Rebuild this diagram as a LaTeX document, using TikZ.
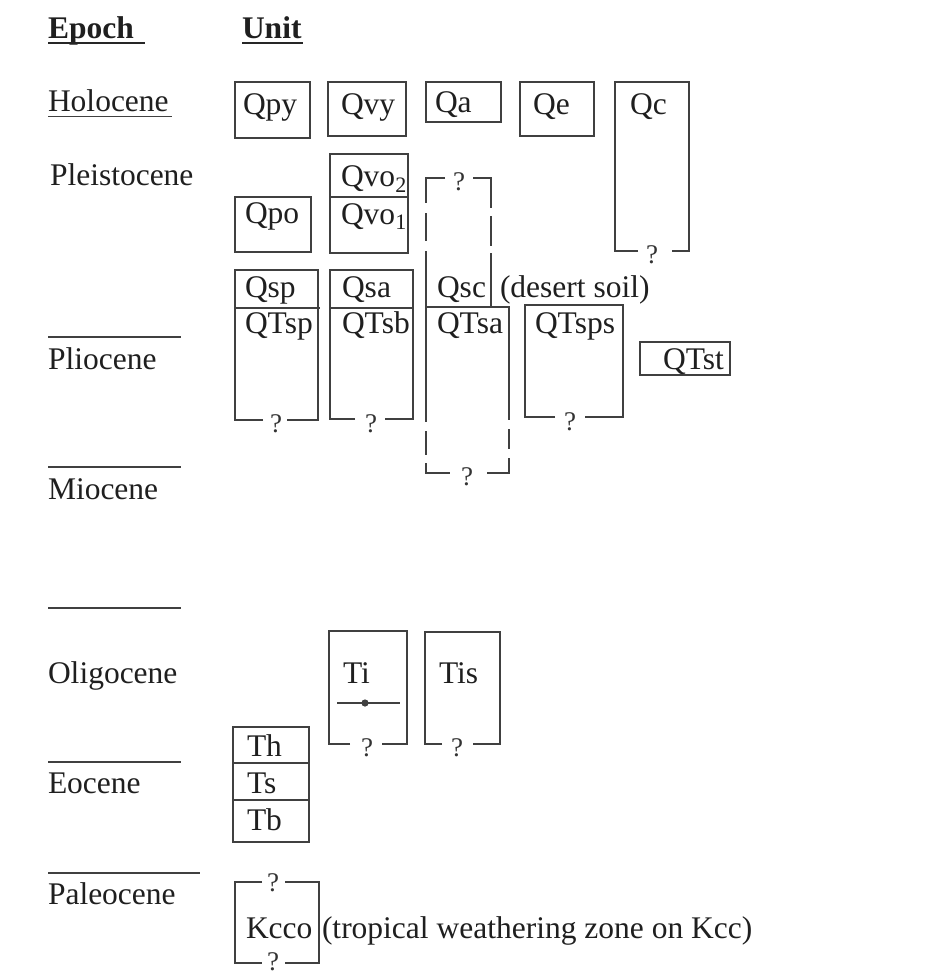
\documentclass[tikz,border=0pt]{standalone}
\usepackage{fontspec}
\setmainfont{Liberation Serif}
\begin{document}
\begin{tikzpicture}[x=1pt,y=-1pt,
  txt/.style={anchor=base west, inner sep=0pt, outer sep=0pt, text=black!88, font=\fontsize{31.5}{36}\selectfont},
  hdr/.style={txt, font=\bfseries\fontsize{31.5}{36}\selectfont},
  qm/.style={inner sep=0pt, outer sep=0pt, text=black!80, font=\fontsize{27}{30}\selectfont},
  box/.style={draw=black!75, line width=2pt, line join=miter},
  rulel/.style={draw=black!75, line width=1.6pt},
  uline/.style={draw=black!85, line width=2.2pt}]
\useasboundingbox (0,0) rectangle (943,977);
% ---------- header ----------
\node[hdr] (epoch) at (48,38) {Epoch};
\draw[uline] (48,43) -- (145,43);
\node[hdr] (unit) at (242,38) {Unit};
\draw[uline] (242,43) -- (303,43);
% ---------- epochs ----------
\node[txt] (holo) at (48,111) {Holocene};
\draw[rulel] (48,116.5) -- (172,116.5);
\node[txt] (pleis) at (50,185) {Pleistocene};
\draw[rulel] (48,337) -- (181,337);
\node[txt] (plio) at (48,369) {Pliocene};
\draw[rulel] (48,467) -- (181,467);
\node[txt] (mio) at (48,499) {Miocene};
\draw[rulel] (48,608) -- (181,608);
\node[txt] (oligo) at (48,683) {Oligocene};
\draw[rulel] (48,762) -- (181,762);
\node[txt] (eo) at (48,793) {Eocene};
\draw[rulel] (48,873) -- (200,873);
\node[txt] (paleo) at (48,904) {Paleocene};
% ---------- Holocene units ----------
\draw[box] (235,82) rectangle (310,138);
\node[txt] (qpy) at (243,114) {Qpy};
\draw[box] (328,82) rectangle (406,136);
\node[txt] (qvy) at (341,114) {Qvy};
\draw[box] (426,82) rectangle (501,122);
\node[txt] (qa) at (435,112) {Qa};
\draw[box] (520,82) rectangle (594,136);
\node[txt] (qe) at (533,114) {Qe};
\draw[box] (638,251) -- (615,251) -- (615,82) -- (689,82) -- (689,251) -- (672,251);
\node[txt] (qc) at (630,114) {Qc};
\node[qm] (qcq) at (652,255) {?};
% ---------- Pleistocene units ----------
\draw[box] (330,154) rectangle (408,253);
\draw[box] (330,197) -- (408,197);
\node[txt] (qvo2) at (341,186) {Qvo\textsubscript{2}};
\node[txt] (qvo1) at (341,224) {Qvo\textsubscript{1}};
\draw[box] (235,197) rectangle (311,252);
\node[txt] (qpo) at (245,223) {Qpo};
% Qsc / QTsa column
\draw[box] (445,178) -- (426,178) -- (426,203);
\draw[box] (426,213) -- (426,241);
\draw[box] (426,251) -- (426,422);
\draw[box] (426,431) -- (426,455);
\draw[box] (426,463) -- (426,473) -- (450,473);
\draw[box] (473,178) -- (491,178) -- (491,208);
\draw[box] (491,216) -- (491,246);
\draw[box] (491,253) -- (491,307);
\draw[box] (426,307) -- (509,307) -- (509,420);
\draw[box] (509,429) -- (509,449);
\draw[box] (509,458) -- (509,473) -- (487,473);
\node[qm] (qscq) at (459,182) {?};
\node[qm] (qtsaq) at (467,477) {?};
\node[txt] (qsc) at (437,297) {Qsc};
\node[txt] (desert) at (500,297) {(desert soil)};
\node[txt] (qtsa) at (437,333) {QTsa};
% Qsp / QTsp
\draw[box] (263,420) -- (235,420) -- (235,270) -- (318,270) -- (318,420) -- (287,420);
\draw[box] (235,308) -- (320,308);
\node[txt] (qsp) at (245,297) {Qsp};
\node[txt] (qtsp) at (245,333) {QTsp};
\node[qm] (qtspq) at (276,424) {?};
% Qsa / QTsb
\draw[box] (355,419) -- (330,419) -- (330,270) -- (413,270) -- (413,419) -- (385,419);
\draw[box] (330,308) -- (413,308);
\node[txt] (qsa) at (342,297) {Qsa};
\node[txt] (qtsb) at (342,333) {QTsb};
\node[qm] (qtsbq) at (371,424) {?};
% QTsps
\draw[box] (555,417) -- (525,417) -- (525,305) -- (623,305) -- (623,417) -- (585,417);
\node[txt] (qtsps) at (535,333) {QTsps};
\node[qm] (qtspsq) at (570,422) {?};
% QTst
\draw[box] (640,342) rectangle (730,375);
\node[txt] (qtst) at (663,369) {QTst};
% ---------- Oligocene ----------
\draw[box] (350,744) -- (329,744) -- (329,631) -- (407,631) -- (407,744) -- (382,744);
\node[txt] (ti) at (343,683) {Ti};
\draw[box, line width=1.8pt] (337,703) -- (400,703);
\fill[black!75] (365,703) circle (3.6);
\node[qm] (tiq) at (367,748) {?};
\draw[box] (442,744) -- (425,744) -- (425,632) -- (500,632) -- (500,744) -- (473,744);
\node[txt] (tis) at (439,683) {Tis};
\node[qm] (tisq) at (457,748) {?};
% ---------- Eocene ----------
\draw[box] (233,727) rectangle (309,842);
\draw[box] (233,763) -- (309,763);
\draw[box] (233,800) -- (309,800);
\node[txt] (th) at (247,756) {Th};
\node[txt] (ts) at (247,793) {Ts};
\node[txt] (tb) at (247,830) {Tb};
% ---------- Paleocene ----------
\draw[box] (262,882) -- (235,882) -- (235,963) -- (262,963);
\draw[box] (285,882) -- (319,882) -- (319,963) -- (285,963);
\node[qm] (kq1) at (273,883) {?};
\node[qm] (kq2) at (273,962) {?};
\node[txt] (kcco) at (246,938) {Kcco};
\node[txt] (trop) at (322,938) {(tropical weathering zone on Kcc)};
\end{tikzpicture}
\end{document}
